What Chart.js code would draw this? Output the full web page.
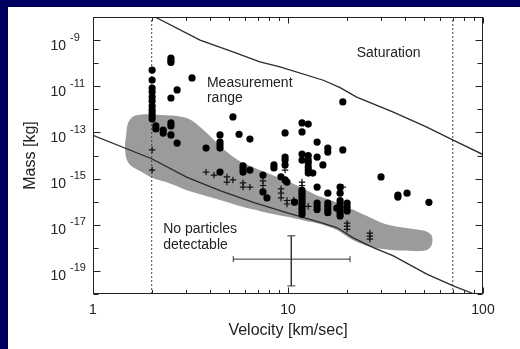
<!DOCTYPE html>
<html><head><meta charset="utf-8">
<script src="https://cdn.jsdelivr.net/npm/chart.js@4.4.1/dist/chart.umd.min.js"></script>
<style>html,body{margin:0;padding:0;background:#000060;}canvas{display:block;}</style>
</head><body>
<canvas id="c" width="520" height="349"></canvas>
<script>
// Velocity in km/sec, mass stored as log10(mass in kg)
const circlePoints = [
  [2.01,-10.30],[2.01,-10.73],[2.01,-11.08],[2.01,-11.25],[2.01,-11.47],[2.01,-11.64],[2.01,-11.86],
  [2.01,-12.03],[2.01,-12.16],[2.01,-12.29],[2.01,-12.42],
  [2.10,-12.72],[2.10,-12.85],[2.29,-12.90],[2.29,-13.03],
  [2.51,-9.78],[2.51,-9.88],[2.51,-9.97],[2.51,-11.51],[2.51,-12.59],[2.51,-12.72],[2.51,-13.11],
  [2.70,-11.16],[2.70,-13.46],[3.22,-10.64],[3.80,-13.68],
  [4.48,-13.11],[4.48,-13.42],[4.48,-13.55],[4.48,-13.68],[4.48,-14.72],
  [5.22,-12.33],[5.61,-13.08],[6.38,-13.29],[6.38,-14.63],
  [5.88,-14.45],[5.88,-14.58],[5.88,-14.72],
  [7.44,-14.85],[7.44,-15.58],[7.80,-15.84],[8.47,-14.41],[8.47,-14.54],
  [9.66,-13.02],[9.66,-14.07],[9.66,-14.20],[9.66,-14.41],[9.66,-15.06],[9.20,-14.92],[9.88,-15.15],
  [10.8,-16.02],
  [11.8,-12.59],[11.8,-12.98],[11.8,-13.94],[11.8,-14.20],[11.8,-15.50],[11.8,-15.63],[11.8,-15.76],
  [11.8,-15.89],[11.8,-16.02],[11.8,-16.15],[11.8,-16.28],[11.8,-16.41],[11.8,-16.55],
  [12.7,-12.64],[12.7,-14.00],[12.7,-14.20],[12.7,-14.33],[12.7,-14.50],[12.7,-14.63],[12.7,-14.76],
  [13.4,-14.76],[14.1,-13.42],[14.1,-14.07],[14.1,-15.37],[14.1,-16.06],[14.1,-16.20],[14.1,-16.34],
  [15.1,-14.41],[16.0,-13.68],[16.0,-13.85],[16.0,-15.63],[16.0,-16.06],[16.0,-16.20],[16.0,-16.34],[16.0,-16.48],
  [17.8,-16.28],[18.5,-15.37],[18.5,-15.63],[18.5,-15.95],[18.5,-16.08],[18.5,-16.22],[18.5,-16.36],[18.5,-16.50],[18.5,-16.62],
  [19.1,-11.68],[19.1,-13.76],[20.1,-16.06],[20.1,-16.22],[20.1,-16.40],
  [30.0,-14.93],[36.6,-15.72],[36.6,-15.80],[40.8,-15.63],[52.8,-16.03]
];
const plusPoints = [
  [2.01,-13.76],[2.01,-14.63],[3.80,-14.72],[4.17,-14.85],[4.86,-14.93],[4.86,-15.15],[5.22,-15.06],
  [5.88,-15.19],[5.88,-15.37],[6.38,-15.37],[7.44,-15.10],[7.44,-15.30],
  [9.21,-15.45],[9.21,-15.63],[9.21,-15.84],[9.66,-14.63],[9.88,-15.95],[9.88,-16.10],[10.7,-15.93],
  [11.8,-15.15],[11.8,-15.30],[12.7,-16.20],[19.1,-15.37],
  [20.1,-16.93],[20.1,-17.06],[20.1,-17.20],[26.3,-17.36],[26.3,-17.49],[26.3,-17.62]
];
// measured region (closed outline)
const regionOutline = [
  [1.49,-12.81],[1.53,-12.51],[1.62,-12.29],[1.78,-12.22],[2.21,-12.25],[2.79,-12.31],[3.18,-12.46],
  [3.54,-12.77],[3.98,-13.16],[4.59,-13.68],[5.16,-14.02],[5.88,-14.33],[6.77,-14.54],[7.62,-14.72],
  [8.78,-14.93],[10.23,-15.15],[11.52,-15.37],[13.92,-15.71],[17.0,-15.97],[20.8,-16.28],[25.4,-16.62],
  [30.7,-16.93],[37.5,-17.10],[45.9,-17.21],[51.6,-17.30],[54.7,-17.49],[54.7,-17.84],[52.2,-18.07],
  [47.5,-18.14],[38.9,-18.12],[32.2,-18.07],[26.3,-17.95],[21.5,-17.66],[17.8,-17.23],[14.6,-16.97],
  [11.9,-16.80],[9.88,-16.65],[8.09,-16.51],[6.61,-16.33],[5.47,-16.15],[4.48,-15.93],[3.66,-15.71],
  [3.03,-15.50],[2.48,-15.21],[2.03,-14.98],[1.74,-14.67],[1.55,-14.41],[1.48,-14.11],[1.46,-13.55],[1.48,-13.11]
];
const saturationLine = [
  [2.08,-8.0],[3.54,-9.0],[5.22,-9.51],[7.18,-9.94],[9.10,-10.16],[15.17,-10.74],[18.5,-11.06],
  [22.5,-11.47],[34.7,-12.12],[51.5,-12.77],[69.9,-13.32],[100,-13.96]
];
const thresholdLine = [
  [1.0,-13.13],[2.0,-14.14],[3.02,-14.94],[4.48,-15.52],[6.64,-16.03],[9.85,-16.47],[14.6,-16.90],
  [17.8,-17.12],[21.6,-17.57],[27.4,-17.99],[34.7,-18.35],[51.5,-19.14],[70.4,-19.65],[90.2,-20.0]
];
const velocityLimits = [2, 70];
const errorVelocity = [5.24, 10.4, 20.8];     // low, centre, high
const errorLogMass = [-17.48, -18.49, -19.65]; // high, centre, low
const xTickLabels = [1, 10, 100];
const xMinorTicks = [2,3,4,5,6,7,8,9,20,30,40,50,60,70,80,90];
const yTickExponents = [-9, -11, -13, -15, -17, -19];
const yMinorExponents = [-20,-18,-16,-14,-12,-10,-8];
const noteTexts = ['Measurement', 'range', 'Saturation', 'No particles', 'detectable'];
const noteVelocity = [3.84, 3.84, 22.5, 2.29, 2.29];
const noteLogMass = [-11.05, -11.68, -9.75, -17.37, -18.05];

const toXY = arr => arr.map(p => ({x: p[0], y: Math.pow(10, p[1])}));
const FONT = '"Liberation Sans", Arial, Helvetica, sans-serif';
const INK = '#222';
const LINE = '#2b2b2b';

const background = {
  id: 'background',
  beforeDraw(chart) {
    const ctx = chart.ctx;
    ctx.save();
    ctx.fillStyle = '#000060';
    ctx.fillRect(0, 0, chart.width, chart.height);
    ctx.fillStyle = '#ffffff';
    ctx.fillRect(8, 7, chart.width - 8, chart.height - 7);
    ctx.restore();
  }
};

const frameAndTicks = {
  id: 'frameAndTicks',
  afterDatasetsDraw(chart) {
    const {ctx, chartArea: a, scales} = chart;
    const L = Math.round(a.left) + 0.5, R = Math.round(a.right) - 0.5;
    const T = Math.round(a.top) + 0.5, B = Math.round(a.bottom) - 0.5;
    ctx.save();
    ctx.strokeStyle = '#222';
    ctx.lineWidth = 1;
    ctx.strokeRect(L, T, R - L, B - T);
    ctx.beginPath();
    const xt = (v, len) => {
      const px = Math.round(scales.x.getPixelForValue(v)) + 0.5;
      ctx.moveTo(px, B); ctx.lineTo(px, B - len);
      ctx.moveTo(px, T); ctx.lineTo(px, T + len);
    };
    xTickLabels.forEach(v => xt(v, 6));
    xMinorTicks.forEach(v => xt(v, 3.5));
    const yt = (e, len) => {
      const py = Math.round(scales.y.getPixelForValue(Math.pow(10, e))) + 0.5;
      ctx.moveTo(L, py); ctx.lineTo(L + len, py);
      ctx.moveTo(R, py); ctx.lineTo(R - len, py);
    };
    yTickExponents.forEach(e => yt(e, 7));
    yMinorExponents.forEach(e => yt(e, 5));
    ctx.stroke();

    // notes
    ctx.fillStyle = INK;
    ctx.font = '14px ' + FONT;
    ctx.textAlign = 'left';
    ctx.textBaseline = 'alphabetic';
    noteTexts.forEach((t, i) => {
      ctx.fillText(t, scales.x.getPixelForValue(noteVelocity[i]),
                      scales.y.getPixelForValue(Math.pow(10, noteLogMass[i])));
    });
    ctx.restore();
  },
  afterDraw(chart) {
    const {ctx, scales} = chart;
    ctx.save();
    ctx.fillStyle = INK;
    ctx.textBaseline = 'alphabetic';
    yTickExponents.forEach(e => {
      const py = scales.y.getPixelForValue(Math.pow(10, e));
      ctx.font = '14px ' + FONT;
      ctx.textAlign = 'right';
      ctx.fillText('10', 66, py + 9.5);
      ctx.font = '11px ' + FONT;
      ctx.textAlign = 'left';
      ctx.fillText(String(e), 70, py + 0.5);
    });
    ctx.restore();
  }
};

const lineDs = (data, extra) => Object.assign({
  data, showLine: true, borderColor: LINE, borderWidth: 1.3, pointRadius: 0,
  fill: false, tension: 0
}, extra);

new Chart(document.getElementById('c'), {
  type: 'line',
  data: {
    datasets: [
      {label: 'circles', data: toXY(circlePoints), showLine: false, pointStyle: 'circle',
       pointRadius: 3.6, pointBackgroundColor: '#000', pointBorderWidth: 0, order: 0},
      {label: 'plus', data: toXY(plusPoints), showLine: false, pointStyle: 'cross',
       pointRadius: 3.2, pointBorderColor: '#111', pointBorderWidth: 1.2, order: 1},
      lineDs(toXY(saturationLine), {label: 'saturation', order: 2}),
      lineDs(toXY(thresholdLine), {label: 'threshold', order: 2}),
      lineDs([{x: velocityLimits[0], y: 1e-20}, {x: velocityLimits[0], y: 1e-8}],
             {label: 'limit1', borderDash: [2, 2], borderWidth: 1, borderColor: '#444', order: 3}),
      lineDs([{x: velocityLimits[1], y: 1e-20}, {x: velocityLimits[1], y: 1e-8}],
             {label: 'limit2', borderDash: [2, 2], borderWidth: 1, borderColor: '#444', order: 3}),
      lineDs([{x: errorVelocity[0], y: Math.pow(10, errorLogMass[1])}, {x: errorVelocity[2], y: Math.pow(10, errorLogMass[1])}],
             {label: 'errH', borderWidth: 1, borderColor: '#333', pointRadius: 3, pointStyle: 'line',
              pointRotation: 90, pointBorderColor: '#333', pointBorderWidth: 1, order: 2}),
      lineDs([{x: errorVelocity[1], y: Math.pow(10, errorLogMass[0])}, {x: errorVelocity[1], y: Math.pow(10, errorLogMass[2])}],
             {label: 'errV', borderWidth: 1, borderColor: '#333', pointRadius: 4, pointStyle: 'line',
              pointRotation: 0, pointBorderColor: '#333', pointBorderWidth: 1, order: 2}),
      {label: 'region', data: toXY(regionOutline), showLine: true, fill: 'shape',
       backgroundColor: '#9b9b9b', borderWidth: 0, borderColor: 'rgba(0,0,0,0)', pointRadius: 0,
       tension: 0.3, order: 10}
    ]
  },
  options: {
    responsive: false,
    animation: false,
    events: [],
    layout: {padding: {top: 17, right: 37, left: 0, bottom: 0}},
    plugins: {legend: {display: false}, tooltip: {enabled: false}},
    scales: {
      x: {
        type: 'logarithmic', min: 1, max: 100, position: 'bottom',
        grid: {display: false, drawTicks: false}, border: {display: false},
        afterBuildTicks: s => { s.ticks = xTickLabels.map(v => ({value: v})); },
        afterFit: s => { s.height = 55; },
        ticks: {color: INK, font: {family: FONT, size: 14}, padding: 8, maxRotation: 0,
                autoSkip: false, callback: v => String(v)},
        title: {display: true, text: 'Velocity [km/sec]', color: INK,
                font: {family: FONT, size: 16}, padding: {top: 0, bottom: 9}}
      },
      y: {
        type: 'logarithmic', min: 1e-20, max: 1e-8, position: 'left',
        grid: {display: false, drawTicks: false}, border: {display: false},
        ticks: {display: false},
        afterFit: s => { s.width = 93; },
        title: {display: true, text: 'Mass [kg]', color: INK,
                font: {family: FONT, size: 16}, padding: {top: 21, bottom: 0}}
      }
    }
  },
  plugins: [background, frameAndTicks]
});
</script>
</body></html>
